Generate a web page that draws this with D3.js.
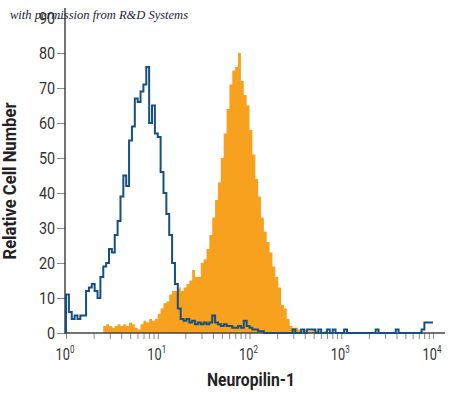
<!DOCTYPE html>
<html>
<head>
<meta charset="utf-8">
<script src="https://cdn.jsdelivr.net/npm/d3@7"></script>
<style>
  body { margin: 0; background: #fff; }
  svg { display: block; }
</style>
</head>
<body>
<div id="chart"></div>
<script>
// flow cytometry histogram, 128 channels over 4 log decades (32 per decade)
var binsPerDecade = 32;

// isotype control (blue outline)
var controlCounts = [
  11, 6, 4, 5, 4, 5, 5, 12, 13, 14, 12, 10, 16, 19, 20, 24,
  23, 28, 32, 39, 45, 42, 55, 59, 67, 66, 69, 71, 76, 60, 65, 57,
  56, 46, 40, 34, 28, 20, 14, 7, 4, 3.5, 4, 3, 3.5, 2.5, 3, 2.5,
  3, 2.5, 3, 5, 3, 2.5, 2, 2.5, 2, 2, 1.5, 1.5, 2, 1.5,
  3.5, 2, 1.5, 1, 1, 0.5, 0.5, 0, 0, 0, 0, 0, 0, 0, 0, 0,
  0, 1, 0, 0, 1, 0, 1, 1, 1, 0, 1, 0, 0, 1, 0, 1,
  0, 0, 0, 1, 0, 0, 0, 0, 0, 0, 0, 0, 0, 0, 1, 0,
  0, 0, 0, 0, 0, 1, 0, 0, 0, 0, 0, 0, 0, 0, 1, 3
];

// Neuropilin-1 stained cells (orange fill)
var stainedCounts = [
  0, 0, 0, 0, 0, 0, 0, 0, 0, 0, 0, 0, 0, 2, 2.5, 2,
  1.5, 2, 2.5, 2, 2.5, 2, 3, 2.5, 1.5, 1, 2.5, 3.5, 3, 4, 3.5, 4,
  5.5, 7, 8.5, 9, 11, 12, 12, 13, 12, 13, 14, 15, 18, 16, 16, 20,
  21, 24, 28, 33, 38, 43, 50, 57, 64, 71, 75, 76, 80, 72, 68, 65,
  58, 51, 44, 39, 33, 29, 26, 23, 19, 16, 13, 8, 7, 4, 2, 1.5,
  1.5, 1, 0.5, 1, 0.5, 0.5, 1, 0.5, 0.5, 0.3, 0.5, 0.3, 0.3, 0.3, 0, 0,
  0, 0, 0, 0, 0, 0, 0, 0, 0, 0, 0, 0, 0, 0, 0, 0,
  0, 0, 0, 0, 0, 0, 0, 0, 0, 0, 0, 0, 0, 0, 0, 0
];

var xDecades = [0, 1, 2, 3, 4];
var yTicks = [0, 10, 20, 30, 40, 50, 60, 70, 80, 90];

var width = 450, height = 393;
var tickFont = "'Roboto', 'Liberation Sans', sans-serif";

var svg = d3
  .select("#chart")
  .append("svg")
  .attr("width", width)
  .attr("height", height);

// scales
var x = d3.scaleLog().domain([1, 1e4]).range([66, 433]);
var y = d3.scaleLinear().domain([0, 90]).range([333, 18]);

// turn counts into step points at channel left edges
function toSteps(counts) {
  var pts = [{ v: 1, c: 0 }];
  counts.forEach(function(c, i) {
    pts.push({ v: Math.pow(10, i / binsPerDecade), c: c });
  });
  pts.push({ v: 1e4, c: counts[counts.length - 1] });
  return pts;
}

// orange filled histogram
var area = d3
  .area()
  .curve(d3.curveStepAfter)
  .x(d => x(d.v))
  .y0(y(0))
  .y1(d => y(d.c));

svg
  .append("path")
  .datum(toSteps(stainedCounts))
  .attr("d", area)
  .attr("fill", "#f8a11f");

// x axis
var minorTicks = [];
xDecades.forEach(function(e) {
  if (e < 4) {
    for (var m = 1; m < 10; m++) minorTicks.push(m * Math.pow(10, e));
  }
});
minorTicks.push(1e4);

var xAxis = svg
  .append("g")
  .attr("transform", "translate(0,333)")
  .call(d3.axisBottom(x).tickValues(minorTicks).tickSize(6).tickFormat(""));
xAxis.select(".domain").remove();
xAxis.selectAll(".tick line").attr("stroke", "#8a8a8a");

svg
  .append("line")
  .attr("x1", 65)
  .attr("x2", 445)
  .attr("y1", 333)
  .attr("y2", 333)
  .attr("stroke", "#444")
  .attr("stroke-width", 1.5);

// decade labels 10^n, squeezed to look condensed
var xLabels = svg
  .selectAll(".xlab")
  .data(xDecades)
  .enter()
  .append("text")
  .attr("class", "xlab")
  .attr("transform", d => "translate(" + (x(Math.pow(10, d)) - 1) + ",360) scale(0.8,1)")
  .attr("text-anchor", "middle")
  .attr("font-family", tickFont)
  .attr("font-size", 16)
  .attr("fill", "#333");
xLabels.append("tspan").text("10");
xLabels
  .append("tspan")
  .attr("dy", -7)
  .attr("font-size", 10)
  .text(d => d);

// y axis
var yAxis = svg
  .append("g")
  .attr("transform", "translate(65,0)")
  .call(d3.axisLeft(y).tickValues(yTicks).tickSize(8).tickPadding(2));
yAxis.select(".domain").remove();
yAxis.selectAll(".tick line").attr("stroke", "#8a8a8a");
yAxis
  .selectAll(".tick text")
  .attr("font-family", tickFont)
  .attr("font-size", 16)
  .attr("fill", "#333")
  .attr("transform", "scale(0.9,1)")
  .attr("x", -11);

svg
  .append("line")
  .attr("x1", 65)
  .attr("x2", 65)
  .attr("y1", 334)
  .attr("y2", 8)
  .attr("stroke", "#444")
  .attr("stroke-width", 1.5);

// blue control outline on top
var line = d3
  .line()
  .curve(d3.curveStepAfter)
  .x(d => x(d.v))
  .y(d => y(d.c));

svg
  .append("path")
  .datum(toSteps(controlCounts))
  .attr("d", line)
  .attr("fill", "none")
  .attr("stroke", "#17507f")
  .attr("stroke-width", 2);

// axis titles
svg
  .append("text")
  .attr("x", 251)
  .attr("y", 386)
  .attr("text-anchor", "middle")
  .attr("font-family", tickFont)
  .attr("font-weight", "bold")
  .attr("font-size", 18)
  .attr("textLength", 88)
  .attr("lengthAdjust", "spacingAndGlyphs")
  .attr("fill", "#222")
  .text("Neuropilin-1");

svg
  .append("text")
  .attr("transform", "translate(16,181) rotate(-90)")
  .attr("text-anchor", "middle")
  .attr("font-family", tickFont)
  .attr("font-weight", "bold")
  .attr("font-size", 18)
  .attr("textLength", 157)
  .attr("lengthAdjust", "spacingAndGlyphs")
  .attr("fill", "#222")
  .text("Relative Cell Number");

// credit line
svg
  .append("text")
  .attr("x", 10)
  .attr("y", 19)
  .attr("font-family", "'Liberation Serif', 'DejaVu Serif', serif")
  .attr("font-style", "italic")
  .attr("font-size", 12.5)
  .attr("fill", "#1b1b3a")
  .text("with permission from R&D Systems");
</script>
</body>
</html>
